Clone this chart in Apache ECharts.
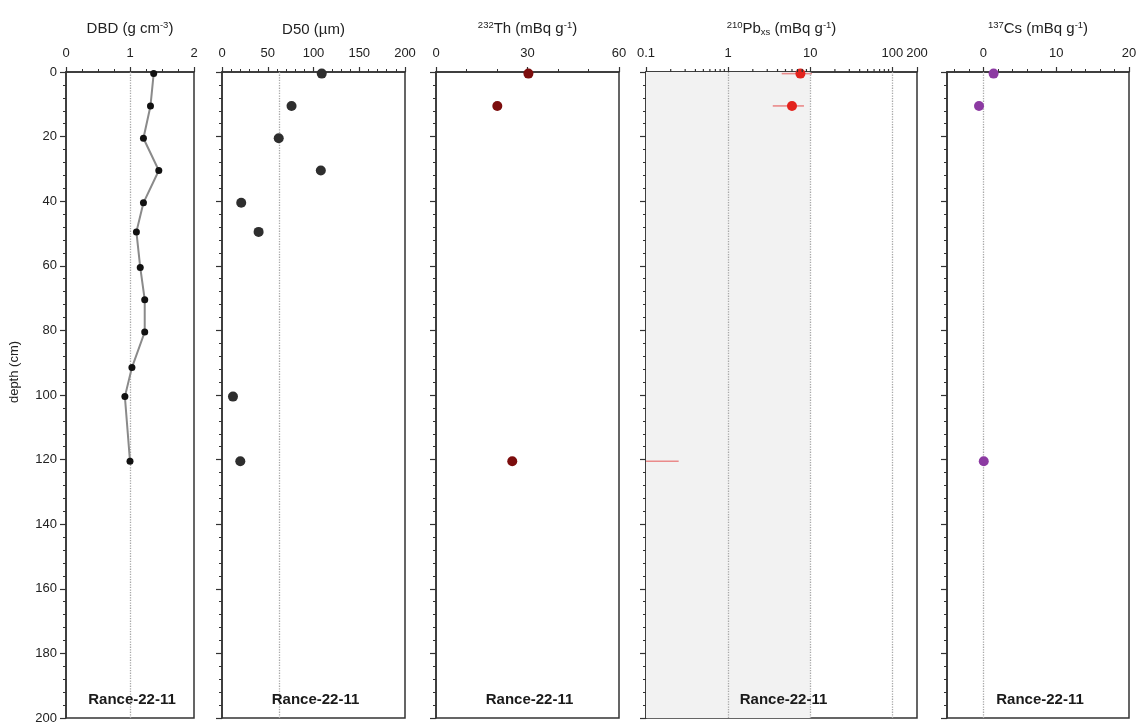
<!DOCTYPE html>
<html>
<head>
<meta charset="utf-8">
<script src="https://cdn.jsdelivr.net/npm/echarts@6/dist/echarts.min.js"></script>
<style>html,body{margin:0;padding:0;background:#fff}#c{width:1137px;height:723px}</style>
</head>
<body>
<div id="c"></div>
<script>
// ---- data ----
const coreName = 'Rance-22-11';
const depthTicks = [0, 20, 40, 60, 80, 100, 120, 140, 160, 180, 200];

const dbdDepth = [0.5, 10.5, 20.5, 30.5, 40.5, 49.5, 60.5, 70.5, 80.5, 91.5, 100.5, 120.5];
const dbdValue = [1.37, 1.32, 1.21, 1.45, 1.21, 1.10, 1.16, 1.23, 1.23, 1.03, 0.92, 1.00];

const d50Depth = [0.5, 10.5, 20.5, 30.5, 40.5, 49.5, 100.5, 120.5];
const d50Value = [109, 76, 62, 108, 21, 40, 12, 20];

const thDepth = [0.5, 10.5, 120.5];
const thValue = [30.3, 20.1, 25.0];

const pbDepth = [0.5, 10.5, 120.5];
const pbValue = [7.6, 6.0, null];
const pbLow = [4.5, 3.5, 0.1];
const pbHigh = [10.5, 8.4, 0.25];
const pbMinorTicks = [0.2, 0.3, 0.4, 0.5, 0.6, 0.7, 0.8, 0.9, 2, 3, 4, 5, 6, 7, 8, 9, 20, 30, 40, 50, 60, 70, 80, 90];

const csDepth = [0.5, 10.5, 120.5];
const csValue = [1.4, -0.6, 0.05];
const csMajorTicks = [0, 10, 20];
const csMinorTicks = [-4, -2, 2, 4, 6, 8, 12, 14, 16, 18];

// reference lines
const dbdRef = [1];
const d50Ref = [63];
const pbRef = [1, 10, 100];
const csRef = [0];
const pbShade = [0.1, 10];

// ---- layout ----
const FONT = 'Liberation Sans, Arial, sans-serif';
const TOP = 72, BOTTOM_Y = 718;
const panels = [
  {left: 66, right: 194},
  {left: 222, right: 405},
  {left: 436, right: 619},
  {left: 646, right: 917},
  {left: 947, right: 1129}
];
const grids = panels.map(p => ({
  left: p.left, top: TOP, width: p.right - p.left, height: BOTTOM_Y - TOP,
  show: true, borderColor: '#333', borderWidth: 1.5, backgroundColor: 'transparent',
  containLabel: false, outerBoundsMode: 'none'
}));

const richSup = {
  sup: {fontSize: 9.5, verticalAlign: 'top', fontFamily: FONT, color: '#222', padding: [0, 0, 7, 0]},
  sub: {fontSize: 9.5, verticalAlign: 'bottom', fontFamily: FONT, color: '#222', padding: [6, 0, 0, 0]}
};
const LABEL = {fontFamily: FONT, fontSize: 13, color: '#222', margin: 12};
function xBase(gridIndex, name) {
  return {
    gridIndex, position: 'top', name, nameLocation: 'middle', nameGap: 35,
    nameTextStyle: {fontFamily: FONT, fontSize: 15, color: '#222', rich: richSup},
    axisLine: {show: true, onZero: false, lineStyle: {color: '#333', width: 1.5}},
    axisTick: {show: true, inside: false, length: 5, lineStyle: {color: '#333', width: 1.2}},
    minorTick: {show: true, length: 3, lineStyle: {color: '#333', width: 1}},
    axisLabel: LABEL,
    splitLine: {show: false}, minorSplitLine: {show: false}
  };
}
const xAxes = [
  Object.assign(xBase(0, 'DBD (g cm{sup|-3})'), {type: 'value', min: 0, max: 2, interval: 1, minorTick: {show: true, splitNumber: 4, length: 3, lineStyle: {color: '#333'}}}),
  Object.assign(xBase(1, 'D50 (µm)'), {type: 'value', min: 0, max: 200, interval: 50, minorTick: {show: true, splitNumber: 5, length: 3, lineStyle: {color: '#333'}}}),
  Object.assign(xBase(2, '{sup|232}Th (mBq g{sup|-1})'), {type: 'value', min: 0, max: 60, interval: 30, minorTick: {show: true, splitNumber: 3, length: 3, lineStyle: {color: '#333'}}}),
  Object.assign(xBase(3, '{sup|210}Pb{sub|xs} (mBq g{sup|-1})'), {type: 'log', logBase: 10, min: 0.1, max: 200, minorTick: {show: false}}),
  Object.assign(xBase(4, '{sup|137}Cs (mBq g{sup|-1})'), {type: 'value', min: -5, max: 20,
    axisLabel: Object.assign({}, LABEL, {customValues: csMajorTicks}),
    axisTick: {show: true, length: 5, lineStyle: {color: '#333', width: 1.2}, customValues: csMajorTicks},
    minorTick: {show: false}}),
  {gridIndex: 4, type: 'value', position: 'top', min: -5, max: 20,
    axisLine: {show: false}, axisLabel: {show: false}, splitLine: {show: false},
    axisTick: {show: true, length: 3, lineStyle: {color: '#333', width: 1}, customValues: csMinorTicks}}
];
const yAxes = panels.map((p, i) => ({
  gridIndex: i, type: 'value', inverse: true, min: 0, max: 200, interval: 20, position: 'left',
  axisLine: {show: true, onZero: false, lineStyle: {color: '#333', width: 1.5}},
  axisTick: {show: true, length: 6, lineStyle: {color: '#333', width: 1.2}},
  minorTick: {show: true, splitNumber: 5, length: 3, lineStyle: {color: '#333', width: 1}},
  axisLabel: {show: i === 0, fontFamily: FONT, fontSize: 13, color: '#222', margin: 9},
  splitLine: {show: false}
}));

function zip(xs, ys) {
  const out = [];
  for (let i = 0; i < xs.length; i++) if (xs[i] !== null && xs[i] !== undefined) out.push([xs[i], ys[i]]);
  return out;
}
function refLines(vals) {
  return {
    silent: true, symbol: ['none', 'none'], label: {show: false},
    lineStyle: {type: 'dotted', color: '#a8a8a8', width: 1.3},
    data: vals.map(v => ({xAxis: v}))
  };
}
function refSeries(xi, vals) {
  return {type: 'line', xAxisIndex: xi, yAxisIndex: xi, data: [], z: 1, silent: true, markLine: refLines(vals)};
}

const series = [
  refSeries(0, dbdRef),
  refSeries(1, d50Ref),
  refSeries(4, csRef),
  {type: 'line', xAxisIndex: 3, yAxisIndex: 3, data: [], z: 0, silent: true,
    markArea: {silent: true, itemStyle: {color: '#f2f2f2'}, data: [[{xAxis: pbShade[0]}, {xAxis: pbShade[1]}]]}},
  refSeries(3, pbRef),
  {type: 'line', xAxisIndex: 0, yAxisIndex: 0, data: zip(dbdValue, dbdDepth),
    symbol: 'circle', symbolSize: 7, itemStyle: {color: '#111', opacity: 1, borderWidth: 0},
    lineStyle: {color: '#8a8a8a', width: 2}, z: 5},
  {type: 'scatter', xAxisIndex: 1, yAxisIndex: 1, data: zip(d50Value, d50Depth),
    symbolSize: 10, itemStyle: {color: '#2e2e2e', opacity: 1}, z: 5},
  {type: 'scatter', xAxisIndex: 2, yAxisIndex: 2, data: zip(thValue, thDepth),
    symbolSize: 10, itemStyle: {color: '#7c0d0d', opacity: 1}, z: 5},
  {type: 'custom', xAxisIndex: 3, yAxisIndex: 3, z: 4,
    data: pbDepth.map((d, i) => [pbLow[i], pbHigh[i], d]),
    encode: {x: [0, 1], y: 2},
    renderItem: function (params, api) {
      const a = api.coord([api.value(0), api.value(2)]);
      const b = api.coord([api.value(1), api.value(2)]);
      return {type: 'line', shape: {x1: a[0], y1: a[1], x2: b[0], y2: b[1]},
        style: {stroke: '#ea8a8a', lineWidth: 1.6}};
    }},
  {type: 'scatter', xAxisIndex: 3, yAxisIndex: 3, data: zip(pbValue, pbDepth),
    symbolSize: 10, itemStyle: {color: '#e3231d', opacity: 1}, z: 5},
  {type: 'scatter', xAxisIndex: 3, yAxisIndex: 3, data: pbMinorTicks.map(v => [v, 0]),
    symbol: 'rect', symbolSize: [1.2, 3], symbolOffset: [0, -1.5], itemStyle: {color: '#333', opacity: 1},
    silent: true, clip: false, z: 6},
  {type: 'scatter', xAxisIndex: 4, yAxisIndex: 4, data: zip(csValue, csDepth),
    symbolSize: 10, itemStyle: {color: '#8c3aa2', opacity: 1}, z: 5}
];

const graphic = panels.map(p => ({
  type: 'text', x: (p.left + p.right) / 2 + 2, y: 700, z: 100,
  style: {text: coreName, font: 'bold 15px ' + FONT, fill: '#1a1a1a', align: 'center', verticalAlign: 'middle'}
}));
graphic.push({
  type: 'text', x: 14, y: 372, rotation: Math.PI / 2, z: 100,
  style: {text: 'depth (cm)', font: '13px ' + FONT, fill: '#222', align: 'center', verticalAlign: 'middle'}
});

const chart = echarts.init(document.getElementById('c'), null, {renderer: 'canvas'});
chart.setOption({
  animation: false,
  backgroundColor: '#fff',
  grid: grids,
  xAxis: xAxes,
  yAxis: yAxes,
  series,
  graphic
});
</script>
</body>
</html>
